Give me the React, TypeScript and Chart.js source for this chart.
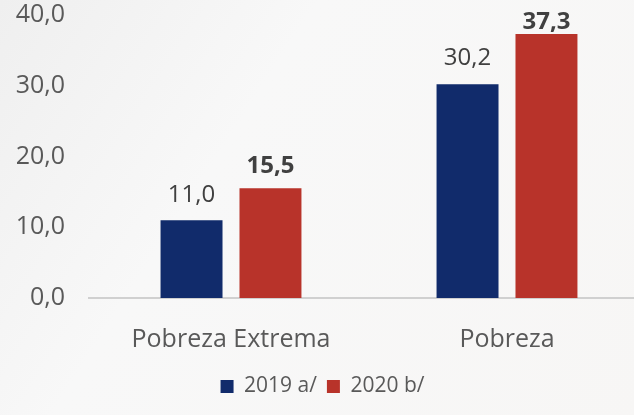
import React, { useEffect, useRef } from "react";
import { Chart, registerables } from "chart.js";

Chart.register(...registerables);

const categories = ["Pobreza Extrema", "Pobreza"];
const seriesNames = ["2019 a/", "2020 b/"];
const values2019 = [11.0, 30.2];
const values2020 = [15.5, 37.3];
const yTickValues = [0, 10, 20, 30, 40];

const BLUE = "#112B6B";
const RED = "#B8332A";
const TEXT = "#595959";
const FONT = "'Open Sans', 'Liberation Sans', sans-serif";

const fmt = (v: number) => v.toFixed(1).replace(".", ",");

const backgroundPlugin = {
  id: "bg",
  beforeDraw(chart: any) {
    const { ctx, width, height } = chart;
    ctx.save();
    const g = ctx.createLinearGradient(0, 0, width, height);
    g.addColorStop(0, "#efefef");
    g.addColorStop(0.35, "#f8f8f8");
    g.addColorStop(1, "#f7f6f5");
    ctx.fillStyle = g;
    ctx.fillRect(0, 0, width, height);
    ctx.restore();
  },
};

const baselinePlugin = {
  id: "baseline",
  beforeDatasetsDraw(chart: any) {
    const { ctx, chartArea, scales } = chart;
    const y0 = scales.y.getPixelForValue(0);
    ctx.save();
    ctx.strokeStyle = "#d0d0d0";
    ctx.lineWidth = 2;
    ctx.beginPath();
    ctx.moveTo(chartArea.left - 5, y0);
    ctx.lineTo(chart.width, y0);
    ctx.stroke();
    ctx.restore();
  },
};

const labelPlugin = {
  id: "valueLabels",
  afterDatasetsDraw(chart: any) {
    const { ctx } = chart;
    const gaps = [
      [18, 19],
      [15, 5],
    ];
    chart.data.datasets.forEach((ds: any, di: number) => {
      const meta = chart.getDatasetMeta(di);
      meta.data.forEach((bar: any, i: number) => {
        ctx.save();
        ctx.font = `${di === 1 ? "bold " : ""}24px ${FONT}`;
        ctx.fillStyle = "#404040";
        ctx.textAlign = "center";
        ctx.textBaseline = "alphabetic";
        ctx.fillText(fmt(ds.data[i]), bar.x, bar.y - gaps[di][i]);
        ctx.restore();
      });
    });
  },
};

export default function App() {
  const ref = useRef<HTMLCanvasElement | null>(null);

  useEffect(() => {
    document.body.style.margin = "0";
    const canvas = ref.current;
    if (!canvas) return;
    const chart = new Chart(canvas, {
      type: "bar",
      data: {
        labels: categories,
        datasets: [
          { label: seriesNames[0], data: values2019, backgroundColor: BLUE, barPercentage: 0.785, categoryPercentage: 0.572 },
          { label: seriesNames[1], data: values2020, backgroundColor: RED, barPercentage: 0.785, categoryPercentage: 0.572 },
        ],
      },
      options: {
        responsive: false,
        animation: false,
        layout: { padding: { top: 15, right: 0, left: 0, bottom: 8 } },
        plugins: {
          legend: {
            position: "bottom",
            align: "center",
            labels: { boxWidth: 13, boxHeight: 13, padding: 10, color: TEXT, font: { family: FONT, size: 21 } },
          },
          tooltip: { enabled: false },
        },
        scales: {
          x: {
            grid: { display: false, drawTicks: false },
            border: { display: false },
            ticks: { color: TEXT, padding: 27, font: { family: FONT, size: 25 } },
            afterFit(scale: any) {
              scale.height = 68;
              scale.paddingLeft = 0;
              scale.paddingRight = 0;
            },
          },
          y: {
            min: 0,
            max: 40,
            grid: { display: false, drawTicks: false },
            border: { display: false },
            afterBuildTicks(scale: any) {
              scale.ticks = yTickValues.map((v) => ({ value: v }));
            },
            ticks: { color: TEXT, padding: 28, font: { family: FONT, size: 25 }, callback: (v: any) => fmt(Number(v)) },
            afterFit(scale: any) {
              scale.width = 93;
              scale.paddingTop = 0;
              scale.paddingBottom = 0;
            },
          },
        },
      },
      plugins: [backgroundPlugin, baselinePlugin, labelPlugin],
    });
    return () => chart.destroy();
  }, []);

  return (
    <div style={{ width: 634, height: 415, overflow: "hidden" }}>
      <canvas ref={ref} width={645} height={415} style={{ display: "block" }} />
    </div>
  );
}
